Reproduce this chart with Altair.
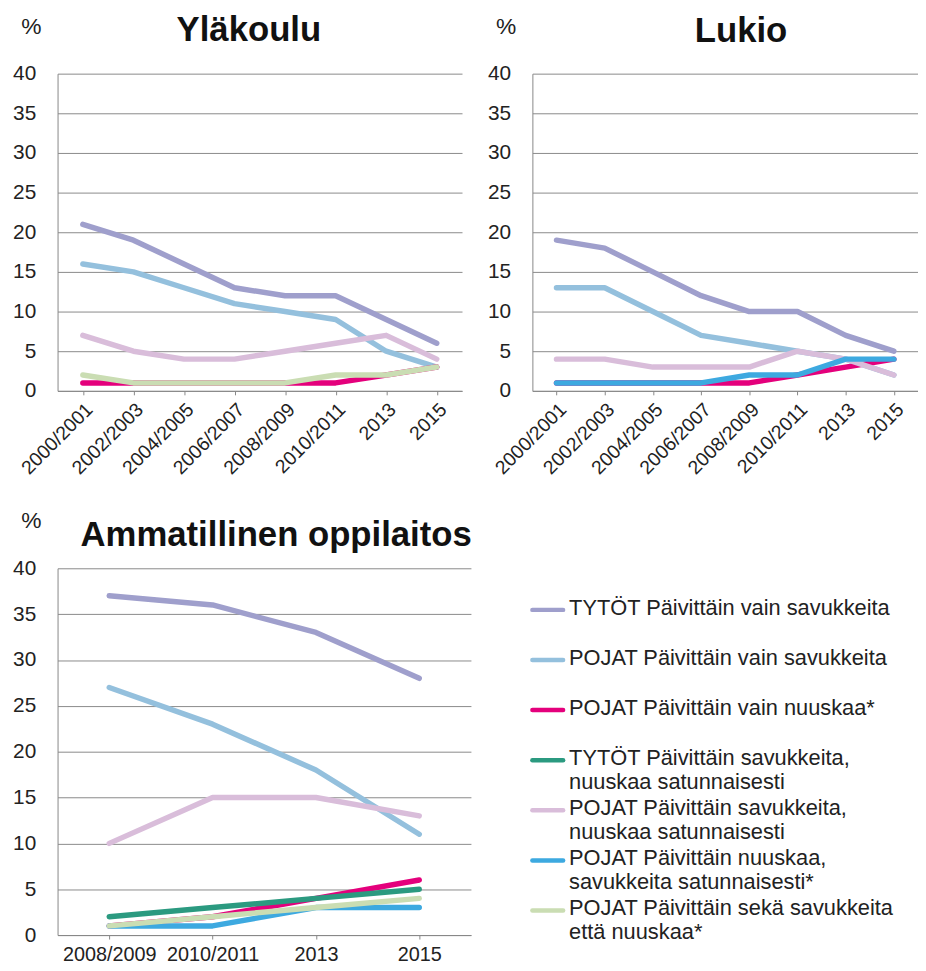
import altair as alt
import pandas as pd

FONT = "Liberation Sans"

keys = ["s1", "s2", "s3", "s4", "s5", "s6", "s7"]
labels = [
    "TYTÖT Päivittäin vain savukkeita",
    "POJAT Päivittäin vain savukkeita",
    "POJAT Päivittäin vain nuuskaa*",
    "TYTÖT Päivittäin savukkeita,\nnuuskaa satunnaisesti",
    "POJAT Päivittäin savukkeita,\nnuuskaa satunnaisesti",
    "POJAT Päivittäin nuuskaa,\nsavukkeita satunnaisesti*",
    "POJAT Päivittäin sekä savukkeita\nettä nuuskaa*",
]
colors = ["#9F9FCC", "#94C0DD", "#E4007C", "#2B9A80", "#D9BDDA", "#3DA9E0", "#CADDB3"]

years_top = ["2000/2001", "2002/2003", "2004/2005", "2006/2007",
             "2008/2009", "2010/2011", "2013", "2015"]
years_amm = ["2008/2009", "2010/2011", "2013", "2015"]

ylakoulu = {
    "s1": [21, 19, 16, 13, 12, 12, 9, 6],
    "s2": [16, 15, 13, 11, 10, 9, 5, 3],
    "s3": [1, 1, 1, 1, 1, 1, 2, 3],
    "s5": [7, 5, 4, 4, 5, 6, 7, 4],
    "s7": [2, 1, 1, 1, 1, 2, 2, 3],
}
lukio = {
    "s1": [19, 18, 15, 12, 10, 10, 7, 5],
    "s2": [13, 13, 10, 7, 6, 5, 4, 2],
    "s3": [1, 1, 1, 1, 1, 2, 3, 4],
    "s5": [4, 4, 3, 3, 3, 5, 4, 2],
    "s6": [1, 1, 1, 1, 2, 2, 4, 4],
}
ammatillinen = {
    "s1": [37, 36, 33, 28],
    "s2": [27, 23, 18, 11],
    "s3": [1, 2, 4, 6],
    "s4": [2, 3, 4, 5],
    "s5": [10, 15, 15, 13],
    "s6": [1, 1, 3, 3],
    "s7": [1, 2, 3, 4],
}


def to_df(d, years):
    rows = []
    for k in keys:
        if k in d:
            for y, v in zip(years, d[k]):
                rows.append({"series": k, "year": y, "value": v})
    return pd.DataFrame(rows)


def panel(d, years, title, w, h, angle, title_dx, title_offset, xfont):
    df = to_df(d, years)
    xaxis = alt.Axis(
        title=None, labelAngle=angle, labelFontSize=xfont, labelColor="#222",
        tickSize=4, tickColor="#888", domainColor="#888", grid=False,
        labelPadding=5 if angle else 6,
    )
    yaxis = alt.Axis(
        values=list(range(0, 41, 5)), title="%", titleAngle=0,
        titleFontSize=23, titleFontWeight="normal", titleColor="#222",
        titleAlign="center", titleBaseline="alphabetic", titleX=-27, titleY=-41,
        labelFontSize=21, labelColor="#222", tickSize=0,
        domainColor="#888", gridColor="#8a8a8a", labelPadding=22,
    )
    return alt.Chart(df).mark_line(
        strokeWidth=5.5, strokeCap="round", strokeJoin="round"
    ).encode(
        x=alt.X("year:N", sort=years, scale=alt.Scale(type="point", padding=0.5), axis=xaxis),
        y=alt.Y("value:Q", scale=alt.Scale(domain=[0, 40]), axis=yaxis),
        color=alt.Color("series:N", scale=alt.Scale(domain=keys, range=colors), legend=None),
    ).properties(
        width=w, height=h,
        title=alt.TitleParams(title, fontSize=35, fontWeight="bold", font=FONT,
                              color="#111", anchor="middle", offset=title_offset, dx=title_dx),
    )


A = panel(ylakoulu, years_top, "Yläkoulu", 408, 320, -45, -11, -33, 19.5)
B = panel(lukio, years_top, "Lukio", 389, 320, -45, 16, -34, 19.5)
C = panel(ammatillinen, years_amm, "Ammatillinen oppilaitos", 417, 370, 0, 12, -44, 20)

leg_df = pd.DataFrame({"series": keys, "label": labels, "row": list(range(len(keys)))})
ly = alt.Y("row:Q", scale=alt.Scale(domain=[-0.83, 6.49], reverse=True), axis=None)
leg_lines = alt.Chart(leg_df).mark_rule(strokeWidth=4.5, strokeCap="round").encode(
    x=alt.value(7), x2=alt.value(38), y=ly,
    color=alt.Color("series:N", scale=alt.Scale(domain=keys, range=colors), legend=None),
)
leg_text = alt.Chart(leg_df).mark_text(
    align="left", baseline="top", dy=-12, fontSize=22, font=FONT,
    color="#222", lineBreak="\n", lineHeight=24,
).encode(x=alt.value(44), y=ly, text="label:N")
legend = alt.layer(leg_lines, leg_text).properties(width=380, height=370)

top = alt.hconcat(A, B, spacing=25)
bottom = alt.hconcat(C, legend, spacing=54)
chart = alt.vconcat(top, bottom, spacing=32).configure(
    font=FONT,
).configure_view(stroke=None).properties(padding={"left": 4, "top": 1, "right": 0, "bottom": 0})

chart.save("out.html", embed_options={"renderer": "svg", "actions": False})
